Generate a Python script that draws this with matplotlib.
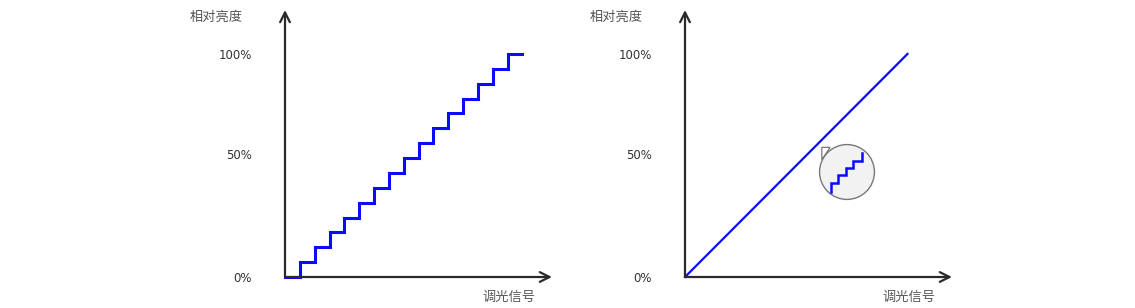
import matplotlib
matplotlib.use("Agg")
import matplotlib.pyplot as plt
from matplotlib.patches import Circle, Polygon
import numpy as np

plt.rcParams['font.family'] = ['Noto Sans CJK SC', 'DejaVu Sans']

# ---- data ----
y_tick_pos = [0, 55, 100]
y_tick_labels = ["0%", "50%", "100%"]
y_label = "相对亮度"
x_label = "调光信号"

# left: stepped dimming (15 discrete levels)
step_x = [0, 1, 2, 3, 4, 5, 6, 7, 8, 9, 10, 11, 12, 13, 14, 15, 16]
step_y = [0, 6.67, 13.33, 20, 26.67, 33.33, 40, 46.67, 53.33, 60,
          66.67, 73.33, 80, 86.67, 93.33, 100, 100]

# right: smooth (linear) dimming
lin_x = [0, 15]
lin_y = [0, 100]

# magnifier inset (fractions of the inset box)
inset_x = [0.21, 0.21, 0.345, 0.345, 0.48, 0.48, 0.615, 0.615, 0.76, 0.76]
inset_y = [0.15, 0.31, 0.31, 0.445, 0.445, 0.58, 0.58, 0.70, 0.70, 0.835]

W, H = 1135, 308
fig = plt.figure(figsize=(W / 100, H / 100), dpi=100)
fig.patch.set_facecolor('white')

ax_w = 267 / W
ax_h = 267 / H
bottom = (H - 277) / H
axL = fig.add_axes([285 / W, bottom, ax_w, ax_h])
axR = fig.add_axes([685 / W, bottom, ax_w, ax_h])

blue = '#0a0aff'
axis_col = '#2a2a2a'

for ax in (axL, axR):
    ax.set_xlim(0, 18)
    ax.set_ylim(0, 119.7)
    for s in ax.spines.values():
        s.set_visible(False)
    ax.set_xticks([])
    ax.set_yticks(y_tick_pos)
    ax.set_yticklabels(y_tick_labels, fontsize=8.5, color='#333333',
                       family=['DejaVu Sans'])
    ax.tick_params(axis='y', length=0, pad=24)
    # axis arrows
    ax.annotate('', xy=(0, 1.0), xytext=(0, 0), xycoords='axes fraction',
                arrowprops=dict(arrowstyle='->,head_length=0.7,head_width=0.35',
                                color=axis_col, lw=1.6, shrinkA=0, shrinkB=0))
    ax.annotate('', xy=(1.0, 0), xytext=(0, 0), xycoords='axes fraction',
                arrowprops=dict(arrowstyle='->,head_length=0.7,head_width=0.35',
                                color=axis_col, lw=1.6, shrinkA=0, shrinkB=0))
    ax.text(-0.258, 0.974, y_label, transform=ax.transAxes, ha='center',
            va='center', fontsize=9.5, color='#555555')
    ax.text(0.84, -0.075, x_label, transform=ax.transAxes, ha='center',
            va='center', fontsize=9.5, color='#555555')

axL.step(step_x, step_y, where='post', color=blue, lw=2.2, clip_on=False,
         solid_joinstyle='miter')
axR.plot(lin_x, lin_y, color=blue, lw=1.6, clip_on=False)

# magnifier inset
axI = fig.add_axes([819 / W, (H - 200) / H, 56 / W, 56 / H])
axI.set_xlim(0, 1)
axI.set_ylim(0, 1)
axI.axis('off')
axI.add_patch(Polygon([(0.05, 0.94), (0.2, 0.94), (0.05, 0.72)], closed=True,
                      facecolor='white', edgecolor='#777777', lw=0.9,
                      clip_on=False, zorder=1))
axI.add_patch(Circle((0.5, 0.5), 0.49, facecolor='#f2f2f2',
                     edgecolor='#777777', lw=1.0, clip_on=False, zorder=2))
axI.plot(inset_x, inset_y, color=blue, lw=1.8, zorder=3,
         solid_joinstyle='miter')

fig.savefig('out.png', dpi=100, facecolor='white')
